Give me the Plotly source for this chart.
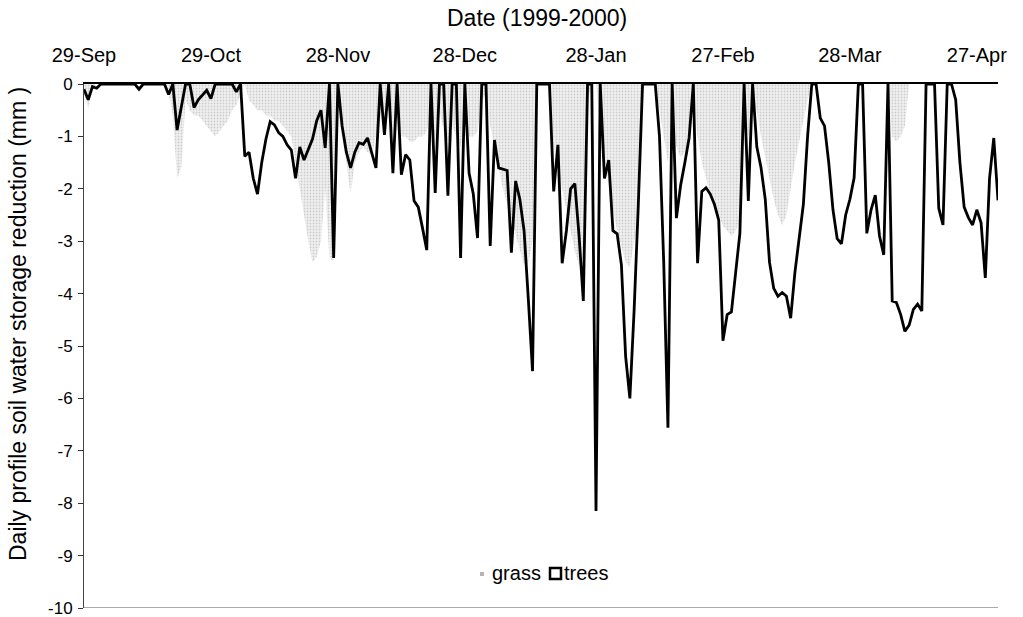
import pandas as pd
import plotly.graph_objects as go

# Daily reduction in profile soil water storage (mm), 29 Sep 1999 onwards
start_date = "1999-09-29"

trees = [
    -0.1, -0.3, -0.05, -0.08, 0, 0, 0, 0, 0, 0,
    0, 0, 0, -0.1, 0, 0, 0, 0, 0, 0,
    -0.2, 0, -0.88, -0.4, 0, 0, -0.45, -0.3, -0.2, -0.12,
    -0.28, 0, 0, 0, 0, 0, -0.15, 0, -1.38, -1.3,
    -1.8, -2.1, -1.5, -1.05, -0.72, -0.78, -0.93, -1.0, -1.16, -1.26,
    -1.8, -1.2, -1.45, -1.25, -1.05, -0.7, -0.5, -1.22, 0, -3.32,
    0, -0.8, -1.3, -1.6, -1.3, -1.12, -1.15, -1.03, -1.3, -1.6,
    0, -0.97, 0, -1.7, 0, -1.73, -1.35, -1.45, -2.23, -2.35,
    -2.75, -3.17, 0, -2.08, 0, 0, -2.13, 0, 0, -3.32,
    0, -1.7, -2.1, -2.94, 0, 0, -3.09, -1.07, -1.6, -1.62,
    -1.65, -3.22, -1.85, -2.2, -2.8, -4.1, -5.48, 0, 0, 0,
    0, -2.05, -1.16, -3.42, -2.8, -2.0, -1.9, -2.9, -4.14, 0,
    0, -8.15, 0, -1.8, -1.45, -2.8, -2.86, -3.45, -5.2, -6.0,
    -4.33, -2.3, 0, 0, 0, 0, -1.0, -3.4, -6.56, 0,
    -2.56, -1.93, -1.5, -1.03, 0, -3.42, -2.05, -1.98, -2.1, -2.3,
    -2.6, -4.9, -4.4, -4.35, -3.6, -2.85, 0, -2.23, 0, -1.2,
    -1.6, -2.2, -3.4, -3.9, -4.05, -3.98, -4.05, -4.47, -3.6, -2.92,
    -2.3, -1.0, 0, 0, -0.65, -0.8, -1.5, -2.4, -2.95, -3.05,
    -2.5, -2.2, -1.79, 0, 0, -2.85, -2.4, -2.12, -2.9, -3.26,
    0, -4.14, -4.17, -4.4, -4.72, -4.6, -4.3, -4.2, -4.33, 0,
    0, 0, -2.37, -2.69, 0, 0, -0.3, -1.5, -2.35, -2.55,
    -2.69, -2.4, -2.65, -3.7, -1.8, -1.03, -2.22,
]

grass = [
    -0.2, -0.45, -0.1, 0, 0, 0, 0, 0, 0, 0,
    0, 0, 0, 0, 0, 0, 0, 0, 0, 0,
    -0.2, -0.6, -1.8, -1.6, -0.3, -0.5, -0.6, -0.6, -0.7, -0.8,
    -0.9, -1.0, -0.9, -0.8, -0.7, -0.5, -0.4, -0.2, 0, -0.3,
    -0.4, -0.5, -0.5, -0.6, -0.6, -0.7, -0.7, -0.8, -0.9, -1.0,
    -1.5, -2.0, -2.5, -3.0, -3.4, -3.3, -3.0, -2.0, -3.3, -3.4,
    -0.5, -1.0, -1.5, -2.1, -1.5, -1.3, -1.2, -1.3, -1.35, -1.0,
    -0.6, -0.9, -0.5, -1.0, -0.5, -1.0, -1.0, -1.1, -1.1, -1.0,
    -1.0, -0.9, -0.6, -1.1, -0.5, -0.9, -1.1, -0.8, -1.0, -1.2,
    -0.8, -1.0, -1.0, -0.9, -0.3, -0.2, -0.8, -1.2, -1.6, -2.0,
    -2.3, -2.6, -2.9, -3.2, -3.45, -3.4, -3.0, 0, 0, 0,
    0, -1.2, -1.6, -2.0, -2.4, -2.8, -3.2, -3.45, -3.4, -0.3,
    0, 0, -0.8, -1.4, -1.9, -2.4, -2.8, -3.1, -3.4, -3.5,
    -3.0, -2.7, 0, 0, 0, 0, -0.5, -1.0, -1.5, -0.8,
    -1.2, -1.4, -1.3, -1.0, 0, -1.0, -1.5, -1.8, -2.1, -2.3,
    -2.5, -2.7, -2.8, -2.9, -2.8, -2.6, -0.5, -1.0, -0.3, -0.5,
    -1.0, -1.4, -1.8, -2.2, -2.5, -2.7, -2.5, -2.0, -1.5, -1.1,
    -0.7, -0.3, 0, 0, 0, 0, 0, 0, 0, 0,
    0, 0, 0, 0, 0, 0, 0, 0, 0, 0,
    0, -1.0, -1.1, -1.0, -0.8, 0, 0, 0, 0, 0,
    0, 0, 0, 0, 0, 0, 0, 0, 0, 0,
    0, 0, 0, 0, 0, 0, 0,
]

tick_dates = ["1999-09-29", "1999-10-29", "1999-11-28", "1999-12-28",
              "2000-01-28", "2000-02-27", "2000-03-28", "2000-04-27"]
tick_labels = ["29-Sep", "29-Oct", "28-Nov", "28-Dec",
               "28-Jan", "27-Feb", "28-Mar", "27-Apr"]
y_ticks = list(range(0, -11, -1))

dates = pd.date_range(start_date, periods=len(trees), freq="D")

FONT = "Arial, Liberation Sans, sans-serif"


def px_x(px):
    """Horizontal pixel position -> paper fraction of the plot area."""
    return (px - 84) / 914


def px_y(py):
    """Vertical pixel position -> paper fraction of the plot area."""
    return (608 - py) / 524


fig = go.Figure()

# grass: stippled grey area
fig.add_trace(go.Scatter(
    x=dates, y=grass, mode="lines", fill="tozeroy",
    line=dict(width=0, color="rgba(0,0,0,0)"),
    fillpattern=dict(shape=".", fgcolor="#a8a8a8", bgcolor="#f1f1f1",
                     size=3, solidity=0.3),
    name="grass", showlegend=False, hoverinfo="skip",
))

# trees: black line
fig.add_trace(go.Scatter(
    x=dates, y=trees, mode="lines",
    line=dict(color="black", width=2.8),
    name="trees", showlegend=False,
))

fig.update_layout(
    width=1023, height=617,
    margin=dict(l=84, r=25, t=84, b=9),
    paper_bgcolor="white", plot_bgcolor="white",
    font=dict(family=FONT, size=20, color="black"),
    showlegend=False,
    xaxis=dict(
        side="top", type="date", automargin=False,
        range=[dates[0], dates[-1]],
        tickvals=tick_dates, ticktext=tick_labels,
        ticks="", showgrid=False, zeroline=False,
        showline=True, linecolor="black", linewidth=2,
        ticklabelstandoff=12,
        tickfont=dict(size=20),
    ),
    yaxis=dict(
        range=[-10, 0], automargin=False,
        tickvals=y_ticks, ticktext=[str(v) for v in y_ticks],
        ticks="outside", ticklen=5, tickcolor="#333", tickwidth=1,
        showgrid=False, zeroline=False,
        showline=True, linecolor="#444", linewidth=1,
        ticklabelstandoff=2, ticklabeloverflow="allow",
        tickfont=dict(size=17),
    ),
    annotations=[
        dict(text="Date (1999-2000)", xref="paper", yref="paper",
             x=px_x(537), y=px_y(18), showarrow=False,
             xanchor="center", yanchor="middle", font=dict(size=23)),
        dict(text="Daily profile soil water storage reduction (mm )",
             xref="paper", yref="paper", x=px_x(18), y=px_y(324),
             textangle=-90, showarrow=False,
             xanchor="center", yanchor="middle", font=dict(size=23)),
        # legend labels
        dict(text="grass", xref="paper", yref="paper",
             x=px_x(490), y=px_y(573), showarrow=False,
             xanchor="left", yanchor="middle", font=dict(size=20)),
        dict(text="trees", xref="paper", yref="paper",
             x=px_x(562), y=px_y(573), showarrow=False,
             xanchor="left", yanchor="middle", font=dict(size=20)),
    ],
    shapes=[
        # lower border of the plot area
        dict(type="line", xref="paper", yref="y", x0=0, x1=1,
             y0=-10, y1=-10, line=dict(color="#555", width=1)),
        # legend keys
        dict(type="rect", xref="paper", yref="paper",
             x0=px_x(480), x1=px_x(484), y0=px_y(576), y1=px_y(572),
             fillcolor="#b5b5b5", line=dict(width=0)),
        dict(type="rect", xref="paper", yref="paper",
             x0=px_x(550), x1=px_x(561), y0=px_y(579), y1=px_y(568),
             fillcolor="white", line=dict(color="black", width=2.5)),
    ],
)

fig.write_html("out.html")
